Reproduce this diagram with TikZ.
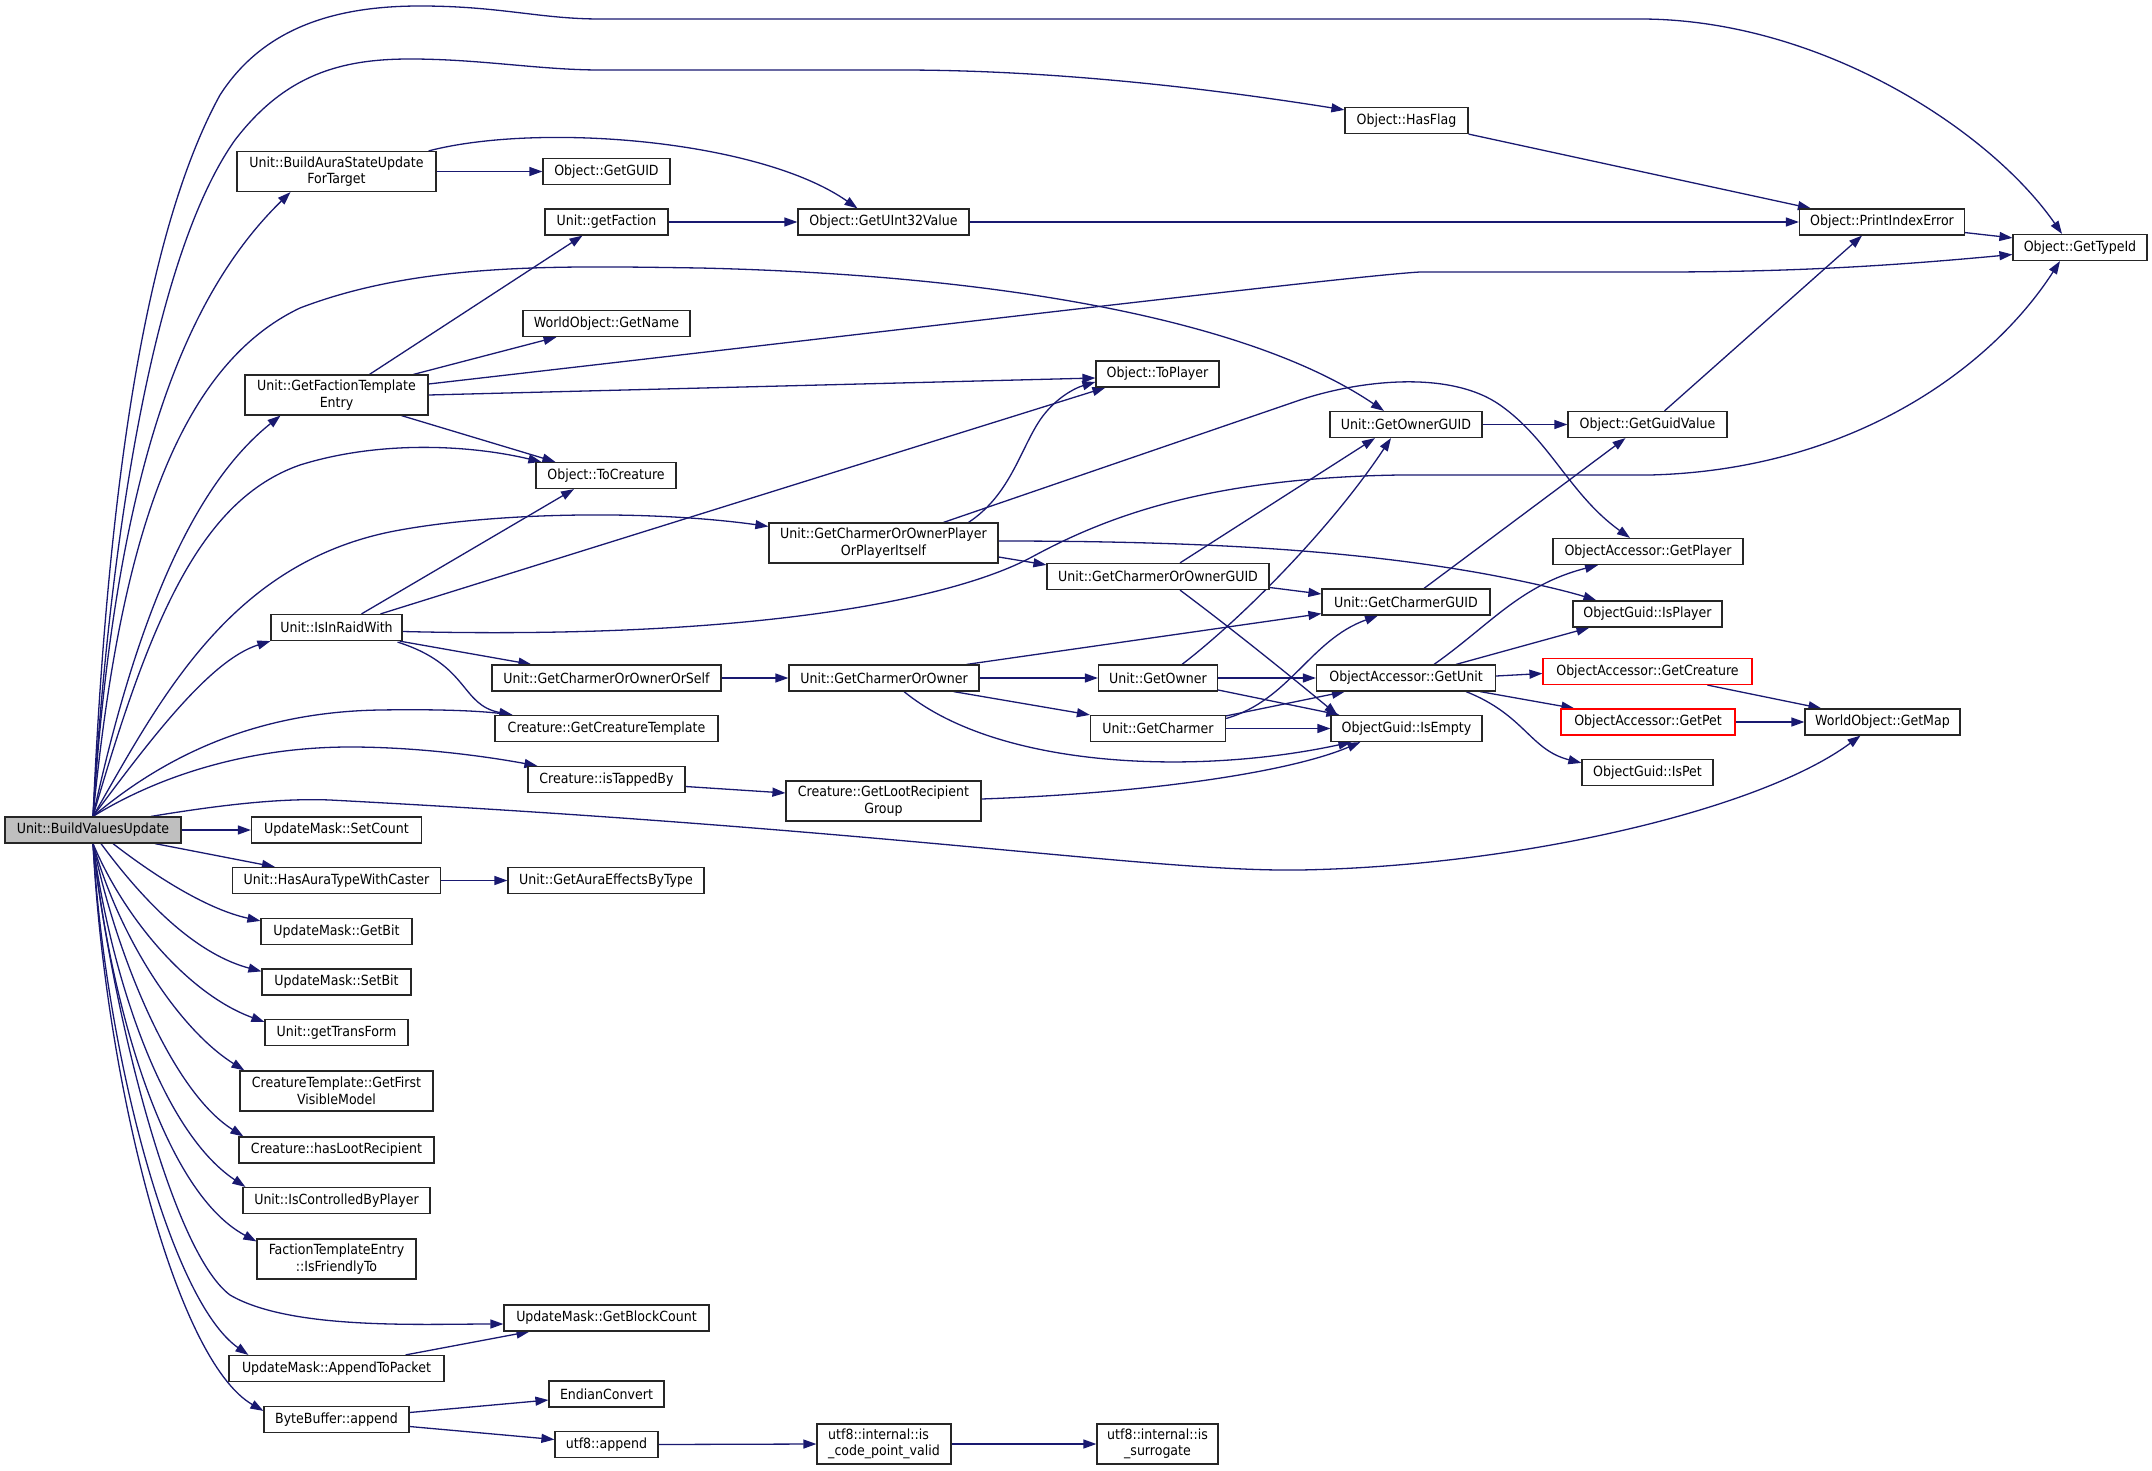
\documentclass[tikz,border=0pt]{standalone}
\usepackage{fontspec}
\setmainfont{DejaVu Sans Condensed}
\usetikzlibrary{arrows.meta,calc}
\definecolor{edgec}{HTML}{191970}
\definecolor{mainfill}{HTML}{BFBFBF}
\pgfdeclarelayer{bg}
\pgfsetlayers{bg,main}
\begin{document}
\begin{tikzpicture}[x=1pt,y=-1pt,
  fn/.style={draw=black!85, line width=1.2pt, fill=white, minimum height=26pt, inner sep=2pt, font=\fontsize{14}{16.5}\selectfont},
  fn2/.style={fn, minimum height=40pt, align=center},
  redfn/.style={fn, draw=red},
  e/.style={draw=edgec, line width=1.3pt, -{Triangle[length=13pt,width=9pt]}}
]
\useasboundingbox (0,0) rectangle (2152,1471);

\node[fn, fill=mainfill, minimum width=176pt] (bvu) at (93,830) {Unit::BuildValuesUpdate};
\node[fn2, minimum width=199pt] (basu) at (336.5,171.5) {Unit::BuildAuraStateUpdate\\ForTarget};
\node[fn, minimum width=127pt] (gguid) at (606.5,171.5) {Object::GetGUID};
\node[fn, minimum width=123pt] (gfac) at (606.5,222) {Unit::getFaction};
\node[fn, minimum width=171pt] (gu32) at (883.5,222) {Object::GetUInt32Value};
\node[fn, minimum width=123pt] (hflag) at (1406.5,120.5) {Object::HasFlag};
\node[fn, minimum width=165pt] (pie) at (1882,222) {Object::PrintIndexError};
\node[fn, minimum width=134pt] (gtid) at (2080,247.5) {Object::GetTypeId};
\node[fn, minimum width=167pt] (gname) at (606.5,323.5) {WorldObject::GetName};
\node[fn2, minimum width=183pt] (gfte) at (336.5,395) {Unit::GetFactionTemplate\\Entry};
\node[fn, minimum width=123pt] (toplayer) at (1157.5,374) {Object::ToPlayer};
\node[fn, minimum width=152pt] (gownguid) at (1406,424.5) {Unit::GetOwnerGUID};
\node[fn, minimum width=159pt] (gguidv) at (1647.5,424.5) {Object::GetGuidValue};
\node[fn, minimum width=140pt] (tocre) at (606,475.5) {Object::ToCreature};
\node[fn2, minimum width=229pt] (gcoopp) at (883.5,543) {Unit::GetCharmerOrOwnerPlayer\\OrPlayerItself};
\node[fn, minimum width=222pt] (gcooguid) at (1158,576.5) {Unit::GetCharmerOrOwnerGUID};
\node[fn, minimum width=190pt] (oagplayer) at (1648,551.5) {ObjectAccessor::GetPlayer};
\node[fn, minimum width=168pt] (gchguid) at (1406,602) {Unit::GetCharmerGUID};
\node[fn, minimum width=149pt] (isplayer) at (1647.5,614) {ObjectGuid::IsPlayer};
\node[fn, minimum width=131pt] (raid) at (336.5,627.5) {Unit::IsInRaidWith};
\node[fn, minimum width=229pt] (gcoos) at (606.5,678) {Unit::GetCharmerOrOwnerOrSelf};
\node[fn, minimum width=190pt] (gcoo) at (884,678) {Unit::GetCharmerOrOwner};
\node[fn, minimum width=119pt] (gowner) at (1158,678) {Unit::GetOwner};
\node[fn, minimum width=179pt] (gunit) at (1406,678) {ObjectAccessor::GetUnit};
\node[redfn, minimum width=209pt] (gcreat) at (1647.5,671.5) {ObjectAccessor::GetCreature};
\node[redfn, minimum width=174pt] (gpet) at (1648,722) {ObjectAccessor::GetPet};
\node[fn, minimum width=155pt] (gmap) at (1882.5,722) {WorldObject::GetMap};
\node[fn, minimum width=131pt] (ispet) at (1647.5,772.5) {ObjectGuid::IsPet};
\node[fn, minimum width=223pt] (gctmpl) at (606.5,728.5) {Creature::GetCreatureTemplate};
\node[fn, minimum width=135pt] (gcharmer) at (1158,728.5) {Unit::GetCharmer};
\node[fn, minimum width=151pt] (isempty) at (1406.5,728.5) {ObjectGuid::IsEmpty};
\node[fn, minimum width=157pt] (tapped) at (606.5,779.5) {Creature::isTappedBy};
\node[fn2, minimum width=195pt] (glrg) at (883.5,801) {Creature::GetLootRecipient\\Group};
\node[fn, minimum width=170pt] (setcount) at (336.5,830) {UpdateMask::SetCount};
\node[fn, minimum width=208pt] (hasaura) at (336.5,880.5) {Unit::HasAuraTypeWithCaster};
\node[fn, minimum width=196pt] (gaebt) at (606,880.5) {Unit::GetAuraEffectsByType};
\node[fn, minimum width=151pt] (getbit) at (336.5,931.5) {UpdateMask::GetBit};
\node[fn, minimum width=149pt] (setbit) at (336.5,982) {UpdateMask::SetBit};
\node[fn, minimum width=143pt] (gtf) at (336.5,1032.5) {Unit::getTransForm};
\node[fn2, minimum width=193pt] (gfvm) at (336.5,1091) {CreatureTemplate::GetFirst\\VisibleModel};
\node[fn, minimum width=195pt] (hlr) at (336.5,1150) {Creature::hasLootRecipient};
\node[fn, minimum width=187pt] (icbp) at (336.5,1200.5) {Unit::IsControlledByPlayer};
\node[fn2, minimum width=159pt] (ift) at (336.5,1259) {FactionTemplateEntry\\::IsFriendlyTo};
\node[fn, minimum width=205pt] (gbc) at (606.5,1318) {UpdateMask::GetBlockCount};
\node[fn, minimum width=215pt] (atp) at (336.5,1368.5) {UpdateMask::AppendToPacket};
\node[fn, minimum width=115pt] (endian) at (606.5,1394) {EndianConvert};
\node[fn, minimum width=145pt] (bbapp) at (336.5,1419.5) {ByteBuffer::append};
\node[fn, minimum width=103pt] (u8app) at (606.5,1444.5) {utf8::append};
\node[fn2, align=left, minimum width=134pt] (cpv) at (884,1444) {utf8::internal::is\\\_code\_point\_valid};
\node[fn2, minimum width=121pt] (surr) at (1157.5,1444) {utf8::internal::is\\\_surrogate};

\begin{pgfonlayer}{bg}
% from Unit::BuildValuesUpdate (top side)
\draw[e] (bvu.north) .. controls (105,550) and (135,250) .. (220,95) .. controls (265,25) and (340,6) .. (420,6) .. controls (500,6) and (540,19) .. (600,19) -- (1640,19) .. controls (1820,19) and (1990,130) .. ($(gtid.north)+(-18,0)$);
\draw[e] (bvu.north) .. controls (108,560) and (150,260) .. (235,140) .. controls (285,75) and (340,59) .. (410,59) .. controls (480,59) and (540,70) .. (600,70) -- (900,70) .. controls (1060,70) and (1220,90) .. ($(hflag.north west)+(0,3)$);
\draw[e] (bvu.north) .. controls (115,480) and (180,300) .. ($(basu.south)+(-46,0)$);
\draw[e] (bvu.north) .. controls (118,560) and (170,370) .. (300,308) .. controls (420,262) and (560,266) .. (700,268) .. controls (1000,275) and (1250,320) .. ($(gownguid.north)+(-22,0)$);
\draw[e] (bvu.north) .. controls (140,600) and (200,480) .. ($(gfte.south)+(-56,0)$);
\draw[e] (bvu.north) .. controls (150,620) and (200,500) .. (300,465) .. controls (380,440) and (470,445) .. ($(tocre.north west)+(6,0)$);
\draw[e] (bvu.north) .. controls (160,700) and (230,560) .. (400,530) .. controls (500,512) and (650,510) .. ($(gcoopp.north west)+(0,4)$);
\draw[e] (bvu.north) .. controls (150,740) and (210,660) .. (raid.south west);
\draw[e] (bvu.north) .. controls (160,760) and (250,712) .. (380,710) .. controls (440,709) and (480,711) .. ($(gctmpl.north west)+(18,0)$);
\draw[e] (bvu.north) .. controls (160,775) and (250,747) .. (350,747) .. controls (420,747) and (490,757) .. ($(tapped.north west)+(10,0)$);
\draw[e] ($(bvu.north)+(58,0)$) .. controls (220,805) and (280,798) .. (330,800) .. controls (900,830) and (1150,872) .. (1300,870) .. controls (1520,866) and (1760,810) .. ($(gmap.south)+(-22,0)$);
% from Unit::BuildValuesUpdate (right and bottom side)
\draw[e] (bvu.east) -- (setcount.west);
\draw[e] ($(bvu.south)+(62,0)$) -- ($(hasaura.north west)+(43,0)$);
\draw[e] ($(bvu.south)+(20,0)$) .. controls (160,880) and (210,910) .. ($(getbit.north west)+(0,3)$);
\draw[e] ($(bvu.south)+(8,0)$) .. controls (150,910) and (200,955) .. ($(setbit.north west)+(0,3)$);
\draw[e] (bvu.south) .. controls (125,920) and (190,995) .. ($(gtf.north west)+(0,3)$);
\draw[e] (bvu.south) .. controls (120,940) and (180,1030) .. ($(gfvm.north west)+(5,0)$);
\draw[e] (bvu.south) .. controls (115,950) and (170,1090) .. ($(hlr.north west)+(5,0)$);
\draw[e] (bvu.south) .. controls (110,970) and (160,1130) .. ($(icbp.north west)+(3,0)$);
\draw[e] (bvu.south) .. controls (108,990) and (160,1190) .. ($(ift.north west)+(0,3)$);
\draw[e] (bvu.south) .. controls (110,1000) and (170,1250) .. (230,1295) .. controls (290,1330) and (420,1324) .. ($(gbc.west)+(0,6)$);
\draw[e] (bvu.south) .. controls (105,1050) and (170,1300) .. ($(atp.north west)+(20,0)$);
\draw[e] (bvu.south) .. controls (105,1080) and (175,1360) .. ($(bbapp.north west)+(0,5)$);
% second level
\draw[e] (basu.east) -- (gguid.west);
\draw[e] ($(basu.north east)+(-8,0)$) .. controls (540,122) and (760,140) .. ($(gu32.north)+(-26,0)$);
\draw[e] (gfac.east) -- (gu32.west);
\draw[e] (gu32.east) -- (pie.west);
\draw[e] (hflag.south east) -- ($(pie.north west)+(12,0)$);
\draw[e] ($(pie.south east)+(0,-3)$) -- ($(gtid.north west)+(0,4)$);
\draw[e] ($(gguidv.north)+(17,0)$) -- ($(pie.south)+(-20,0)$);
\draw[e] ($(gfte.north)+(33,0)$) -- ($(gfac.south)+(-24,0)$);
\draw[e] ($(gfte.north)+(77,0)$) -- ($(gname.south)+(-50,0)$);
\draw[e] ($(gfte.east)+(0,-11)$) .. controls (900,330) and (1350,276) .. (1420,272) -- (1660,272) .. controls (1800,272) and (1900,265) .. ($(gtid.west)+(0,7)$);
\draw[e] (gfte.east) -- ($(toplayer.west)+(0,4)$);
\draw[e] ($(gfte.south)+(65,0)$) -- ($(tocre.north west)+(20,0)$);
\draw[e] ($(raid.north)+(25,0)$) -- ($(tocre.south)+(-32,0)$);
\draw[e] ($(raid.north)+(44,0)$) -- ($(toplayer.south west)+(10,0)$);
\draw[e] ($(raid.east)+(0,4)$) .. controls (750,640) and (950,600) .. (1030,558) .. controls (1100,520) and (1200,478) .. (1400,475) -- (1650,475) .. controls (1850,470) and (1990,370) .. ($(gtid.south)+(-20,0)$);
\draw[e] ($(raid.south east)+(-3,0)$) -- ($(gcoos.north west)+(40,0)$);
\draw[e] ($(raid.south east)+(-5,1)$) .. controls (470,665) and (460,705) .. ($(gctmpl.north west)+(18,0)$);
\draw[e] ($(gcoopp.north)+(85,0)$) .. controls (1010,495) and (1020,450) .. (1040,420) .. controls (1055,398) and (1075,388) .. ($(toplayer.west)+(0,8)$);
\draw[e] ($(gcoopp.north)+(60,0)$) -- (1300,400) .. controls (1360,380) and (1450,370) .. (1500,405) .. controls (1550,440) and (1570,495) .. ($(oagplayer.north)+(-18,0)$);
\draw[e] ($(gcoopp.east)+(0,-2)$) .. controls (1200,541) and (1350,550) .. (1480,573) .. controls (1530,582) and (1570,592) .. ($(isplayer.north west)+(24,0)$);
\draw[e] ($(gcoopp.east)+(0,14)$) -- ($(gcooguid.north west)+(0,2)$);
\draw[e] ($(gcooguid.north)+(22,0)$) -- ($(gownguid.south)+(-31,0)$);
\draw[e] ($(gcooguid.east)+(0,11)$) -- ($(gchguid.west)+(0,-8)$);
\draw[e] ($(gcooguid.south)+(22,0)$) .. controls (1240,635) and (1295,680) .. ($(isempty.north west)+(7,0)$);
\draw[e] (gcoos.east) -- (gcoo.west);
\draw[e] ($(gcoo.north east)+(-13,0)$) -- ($(gchguid.south west)+(0,-2)$);
\draw[e] (gcoo.east) -- (gowner.west);
\draw[e] ($(gcoo.south east)+(-26,0)$) -- (gcharmer.north west);
\draw[e] ($(gcoo.south)+(20,0)$) .. controls (1000,770) and (1200,775) .. ($(isempty.south west)+(21,0)$);
\draw[e] ($(gowner.north)+(24,0)$) .. controls (1240,620) and (1330,530) .. ($(gownguid.south)+(-15,0)$);
\draw[e] (gowner.east) -- (gunit.west);
\draw[e] ($(gowner.east)+(0,12)$) -- ($(isempty.north west)+(9,0)$);
\draw[e] ($(gcharmer.east)+(0,-10)$) .. controls (1290,700) and (1310,640) .. ($(gchguid.south)+(-28,0)$);
\draw[e] ($(gcharmer.north east)+(0,1)$) -- ($(gunit.south west)+(29,0)$);
\draw[e] (gcharmer.east) -- (isempty.west);
\draw[e] ($(gchguid.north)+(18,0)$) -- ($(gguidv.south)+(-22,0)$);
\draw[e] (gownguid.east) -- (gguidv.west);
\draw[e] ($(gunit.north)+(28,0)$) .. controls (1490,625) and (1520,585) .. ($(oagplayer.south)+(-50,0)$);
\draw[e] ($(gunit.north)+(50,0)$) -- ($(isplayer.south west)+(17,0)$);
\draw[e] ($(gunit.east)+(0,-2)$) -- ($(gcreat.west)+(0,2)$);
\draw[e] ($(gunit.south east)+(-16,0)$) -- ($(gpet.north west)+(14,0)$);
\draw[e] ($(gunit.south)+(60,0)$) .. controls (1525,715) and (1530,750) .. ($(ispet.north west)+(0,4)$);
\draw[e] ($(gcreat.south)+(60,0)$) -- ($(gmap.north west)+(17,0)$);
\draw[e] (gpet.east) -- (gmap.west);
\draw[e] ($(tapped.east)+(0,7)$) -- ($(glrg.west)+(0,-8)$);
\draw[e] ($(glrg.east)+(0,-2)$) .. controls (1150,793) and (1290,772) .. ($(isempty.south west)+(30,0)$);
\draw[e] (hasaura.east) -- (gaebt.west);
\draw[e] ($(atp.north east)+(-39,0)$) -- ($(gbc.south west)+(26,0)$);
\draw[e] ($(bbapp.east)+(0,-7)$) -- ($(endian.west)+(0,6)$);
\draw[e] ($(bbapp.east)+(0,7)$) -- ($(u8app.west)+(0,-5)$);
\draw[e] (u8app.east) -- (cpv.west);
\draw[e] (cpv.east) -- (surr.west);
\end{pgfonlayer}
\end{tikzpicture}
\end{document}
